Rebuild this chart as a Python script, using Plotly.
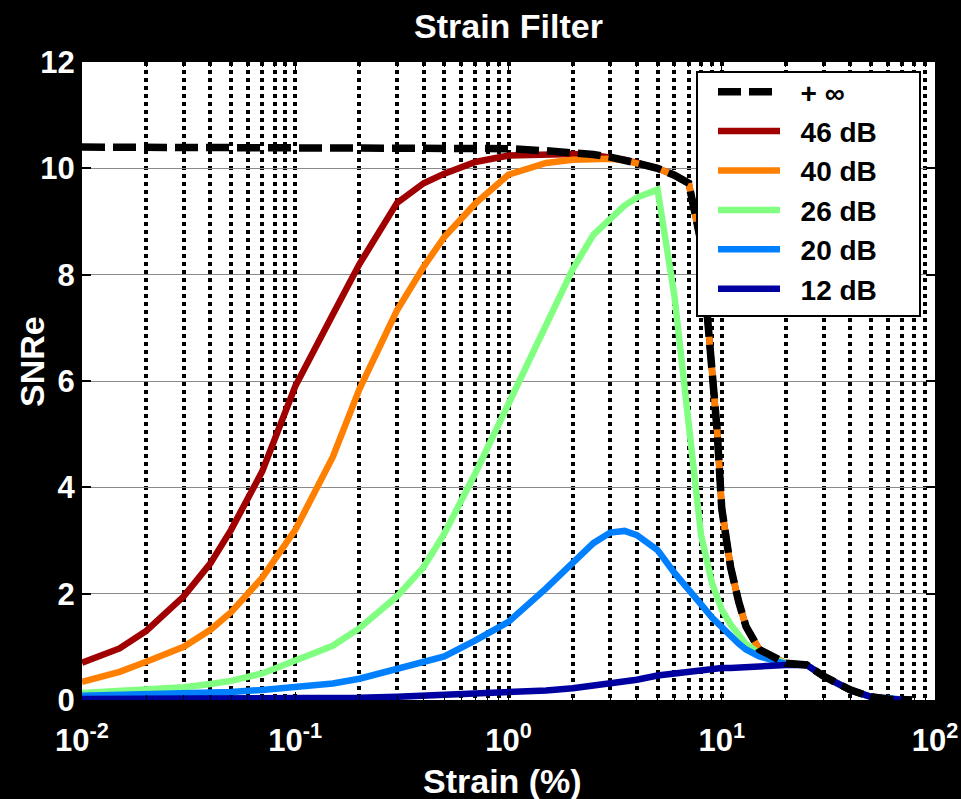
import plotly.graph_objects as go

strain = [0.01, 0.015, 0.02, 0.03, 0.04, 0.05, 0.07,
          0.1, 0.15, 0.2, 0.3, 0.4, 0.5, 0.7,
          1, 1.5, 2, 2.5, 3, 3.5, 4, 5, 6, 7, 8, 9, 9.5,
          10, 11, 12, 13, 15, 20, 25, 30, 40, 50, 60, 70, 78]

snr_inf = [10.4, 10.4, 10.4, 10.4, 10.4, 10.4, 10.4,
           10.4, 10.4, 10.4, 10.4, 10.4, 10.39, 10.38,
           10.37, 10.33, 10.3, 10.26, 10.21, 10.16, 10.1, 10.0, 9.87, 9.72, 8.6, 6.2, 5.1,
           3.6, 2.5, 1.85, 1.38, 0.95, 0.69, 0.66, 0.45, 0.19, 0.06, 0.02, 0.01, 0.0]

snr_46 = [0.70, 0.97, 1.3, 1.95, 2.57, 3.2, 4.3,
          5.9, 7.25, 8.2, 9.35, 9.72, 9.9, 10.12,
          10.24, 10.27, 10.27, 10.25, 10.21, 10.16, 10.1, 10.0, 9.87, 9.72, 8.6, 6.2, 5.1,
          3.6, 2.5, 1.85, 1.38, 0.95, 0.69, 0.66, 0.45, 0.19, 0.06, 0.02, 0.01, 0.0]

snr_40 = [0.34, 0.53, 0.72, 1.0, 1.32, 1.65, 2.3,
          3.2, 4.57, 5.85, 7.33, 8.15, 8.71, 9.34,
          9.88, 10.1, 10.16, 10.18, 10.18, 10.15, 10.1, 10.0, 9.87, 9.72, 8.6, 6.2, 5.1,
          3.6, 2.5, 1.85, 1.38, 0.95, 0.69, 0.66, 0.45, 0.19, 0.06, 0.02, 0.01, 0.0]

snr_26 = [0.13, 0.16, 0.19, 0.24, 0.3, 0.36, 0.5,
          0.75, 1.02, 1.35, 1.95, 2.5, 3.13, 4.27,
          5.55, 7.05, 8.1, 8.75, 9.05, 9.3, 9.45, 9.6, 7.6, 5.1, 3.1, 2.2, 1.95,
          1.7, 1.42, 1.2, 1.05, 0.88, 0.69, 0.66, 0.45, 0.19, 0.06, 0.02, 0.01, 0.0]

snr_20 = [0.08, 0.09, 0.1, 0.11, 0.13, 0.15, 0.19,
          0.24, 0.31, 0.4, 0.58, 0.7, 0.82, 1.12,
          1.47, 2.1, 2.57, 2.95, 3.15, 3.18, 3.1, 2.82, 2.39, 2.05, 1.8, 1.55, 1.45,
          1.36, 1.2, 1.06, 0.95, 0.82, 0.68, 0.66, 0.45, 0.19, 0.06, 0.02, 0.01, 0.0]

snr_12 = [0.02, 0.02, 0.02, 0.02, 0.02, 0.02, 0.03,
          0.03, 0.03, 0.04, 0.06, 0.08, 0.09, 0.11,
          0.13, 0.18, 0.22, 0.27, 0.31, 0.34, 0.38, 0.46, 0.5, 0.53, 0.56, 0.57, 0.58,
          0.6, 0.6, 0.61, 0.62, 0.63, 0.66, 0.66, 0.45, 0.19, 0.06, 0.02, 0.01, 0.0]

series_names = ["46 dB", "40 dB", "26 dB", "20 dB", "12 dB"]
series_values = [snr_46, snr_40, snr_26, snr_20, snr_12]
series_colors = ["#A00000", "#FF8000", "#80FF80", "#0080FF", "#0000A0"]
inf_name = "+ \u221e"

y_ticks = [0, 2, 4, 6, 8, 10, 12]
x_decades = [0.01, 0.1, 1, 10, 100]
x_decade_labels = ["10<sup>-2</sup>", "10<sup>-1</sup>", "10<sup>0</sup>", "10<sup>1</sup>", "10<sup>2</sup>"]
x_mults = [2, 3, 4, 5, 6, 7, 8, 9]

minor_vals = [d * m for d in x_decades[:-1] for m in x_mults]

FONT = "Liberation Sans, Arial, Helvetica, sans-serif"
PAD = "\u00a0\u00a0"

# plot-area pixel geometry helpers (for paper-referenced decorations)
L, R, T, B = 82, 935, 62, 700
def px_x(p):
    return (p - L) / (R - L)
def px_y(p):
    return (B - p) / (B - T)

fig = go.Figure()
for i, (name, vals, col) in enumerate(zip(series_names, series_values, series_colors)):
    fig.add_trace(go.Scatter(x=strain, y=vals, mode="lines", name=PAD + name + PAD,
                             line=dict(color=col, width=6.5), legendrank=i + 2))
fig.add_trace(go.Scatter(x=strain, y=snr_inf, mode="lines", name=PAD + inf_name,
                         line=dict(color="black", width=7.5, dash="23px,8px"), legendrank=1))

grid_style = dict(showgrid=True, gridcolor="black", gridwidth=4, griddash="4px,4px")

fig.update_layout(
    width=961, height=799,
    paper_bgcolor="black", plot_bgcolor="white",
    margin=dict(l=L, r=961 - R, t=T, b=799 - B, autoexpand=False),
    title=dict(text="Strain Filter", x=0.5, xref="paper", xanchor="center",
               y=1 - 26 / 799, yref="container", yanchor="middle",
               font=dict(family=FONT, size=34, color="white", weight="bold")),
    font=dict(family=FONT, color="white", weight="bold"),
    showlegend=True,
    legend=dict(x=px_x(713), y=px_y(67), xanchor="left", yanchor="top",
                bgcolor="rgba(0,0,0,0)", borderwidth=0,
                font=dict(family=FONT, size=28, color="black", weight="bold"),
                itemwidth=62, tracegroupgap=0),
    xaxis=dict(type="log", range=[-2, 2], tickmode="array", tickvals=x_decades, ticktext=x_decade_labels,
               ticks="inside", ticklen=8, tickcolor="black", tickwidth=1,
               minor=dict(tickvals=minor_vals, ticks="inside", ticklen=5, tickcolor="black", **grid_style),
               showline=True, linecolor="black", linewidth=1, mirror="ticks",
               tickfont=dict(family=FONT, size=31, color="white", weight="bold"),
               ticklabelstandoff=13, automargin=False, zeroline=False,
               **grid_style),
    yaxis=dict(range=[0, 12], tickmode="array", tickvals=y_ticks,
               showgrid=True, gridcolor="#8a8a8a", gridwidth=1,
               ticks="inside", ticklen=9, tickcolor="black", tickwidth=2,
               showline=True, linecolor="black", linewidth=1, mirror="ticks",
               tickfont=dict(family=FONT, size=31, color="white", weight="bold"),
               automargin=False, zeroline=False),
    shapes=[dict(type="rect", xref="paper", yref="paper",
                 x0=px_x(697), x1=px_x(920), y0=px_y(316), y1=px_y(72),
                 fillcolor="white", line=dict(color="black", width=2), layer="above")],
    annotations=[
        dict(text="Strain (%)", x=px_x(502), y=px_y(781), xref="paper", yref="paper",
             showarrow=False, xanchor="center", yanchor="middle",
             font=dict(family=FONT, size=34, color="white", weight="bold")),
        dict(text="SNRe", x=px_x(32), y=px_y(362), xref="paper", yref="paper",
             showarrow=False, xanchor="center", yanchor="middle", textangle=-90,
             font=dict(family=FONT, size=34, color="white", weight="bold")),
    ],
)

fig.write_html("out.html")
